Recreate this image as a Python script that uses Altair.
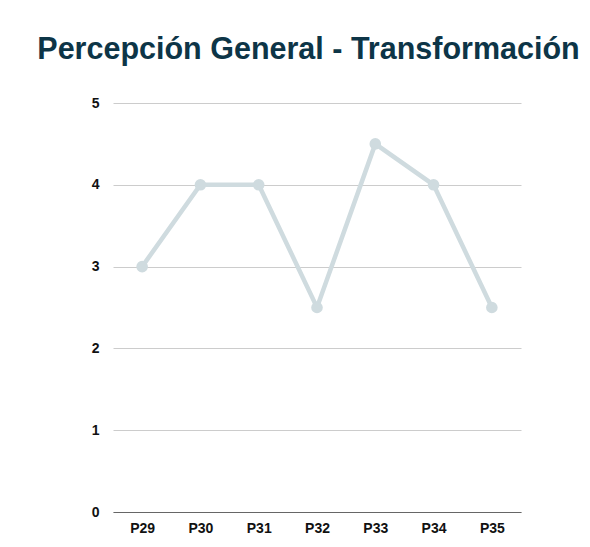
import altair as alt
import pandas as pd

preguntas = ["P29", "P30", "P31", "P32", "P33", "P34", "P35"]
valores = [3, 4, 4, 2.5, 4.5, 4, 2.5]

df = pd.DataFrame({"pregunta": preguntas, "valor": valores})

base = alt.Chart(df).encode(
    x=alt.X("pregunta:N", sort=preguntas,
            scale=alt.Scale(type="point", padding=0.5),
            axis=alt.Axis(title=None, labelAngle=0, ticks=False, domain=True,
                          domainColor="#666666", domainWidth=1, grid=False,
                          labelFont="Liberation Sans", labelFontWeight="bold",
                          labelFontSize=14, labelColor="#111111", labelPadding=9)),
    y=alt.Y("valor:Q", scale=alt.Scale(domain=[0, 5]),
            axis=alt.Axis(title=None, values=[0, 1, 2, 3, 4, 5], format="d",
                          ticks=False, domain=False, grid=True,
                          gridColor="#cccccc", gridWidth=1,
                          labelFont="Liberation Sans", labelFontWeight="bold",
                          labelFontSize=14, labelColor="#111111", labelPadding=14)),
)

line = base.mark_line(color="#cfdbdf", strokeWidth=4.5)
points = base.mark_circle(color="#cfdbdf", size=135, opacity=1)

chart = (line + points).properties(
    width=408,
    height=409,
    autosize=alt.AutoSizeParams(type="none"),
    padding={"left": 105, "top": 95, "right": 61, "bottom": 25},
    title=alt.TitleParams(
        "Percepción General - Transformación",
        font="Liberation Sans", fontSize=30.5, fontWeight="bold",
        color="#0d3547", anchor="middle", frame="group",
        baseline="alphabetic", offset=7, dx=-8.5,
    ),
).configure_view(stroke=None)

chart.save("out.html", embed_options={"renderer": "svg", "actions": False})
